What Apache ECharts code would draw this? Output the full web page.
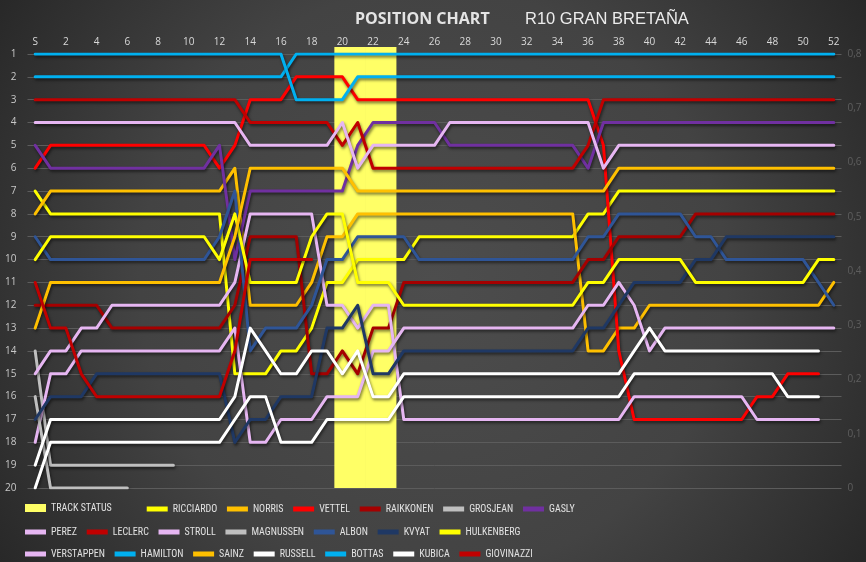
<!DOCTYPE html>
<html>
<head>
<meta charset="utf-8">
<script src="https://cdn.jsdelivr.net/npm/echarts@6/dist/echarts.min.js"></script>
<style>html,body{margin:0;padding:0;background:#333}#c{width:866px;height:562px}</style>
</head>
<body>
<div id="c"></div>
<script>
// ---- categories (laps) ----
const laps = ['S','1','2','3','4','5','6','7','8','9','10','11','12','13','14','15','16','17','18','19','20','21','22','23','24','25','26','27','28','29','30','31','32','33','34','35','36','37','38','39','40','41','42','43','44','45','46','47','48','49','50','51','52'];

// ---- track status (safety car) on secondary axis ----
const trackStatus = [null,null,null,null,null,null,null,null,null,null, null,null,null,null,null,null,null,null,null,null, 0.813,0.813,0.813,0.813,null,null,null,null,null,null, null,null,null,null,null,null,null,null,null,null, null,null,null,null,null,null,null,null,null,null, null,null,null];

// ---- positions per lap (S .. 52) ----
const RICCIARDO = [7,8,8,8,8,8,8,8,8,8, 8,8,8,15,15,15,14,14,13,11, 11,10,10,10,10,9,9,9,9,9, 9,9,9,9,9,9,8,8,7,7, 7,7,7,7,7,7,7,7,7,7, 7,7,7];
const NORRIS = [8,7,7,7,7,7,7,7,7,7, 7,7,7,6,12,12,12,12,11,9, 9,8,8,8,8,8,8,8,8,8, 8,8,8,8,8,8,14,14,13,13, 12,12,12,12,12,12,12,12,12,12, 12,12,11];
const VETTEL = [6,5,5,5,5,5,5,5,5,5, 5,5,6,5,3,3,3,2,2,2, 2,3,3,3,3,3,3,3,3,3, 3,3,3,3,3,3,3,5,14,17, 17,17,17,17,17,17,17,16,16,15, 15,15,null];
const RAIKKONEN = [12,12,12,12,12,13,13,13,13,13, 13,13,13,12,9,9,9,9,15,15, 14,15,13,13,11,11,11,11,11,11, 11,11,11,11,11,11,10,10,9,9, 9,9,9,8,8,8,8,8,8,8, 8,8,8];
const GROSJEAN = [14,19,19,19,19,19,19,19,19,19, null,null,null,null,null,null,null,null,null,null, null,null,null,null,null,null,null,null,null,null, null,null,null,null,null,null,null,null,null,null, null,null,null,null,null,null,null,null,null,null, null,null,null];
const GASLY = [5,6,6,6,6,6,6,6,6,6, 6,6,5,10,7,7,7,7,7,7, 7,5,4,4,4,4,4,5,5,5, 5,5,5,5,5,5,6,4,4,4, 4,4,4,4,4,4,4,4,4,4, 4,4,4];
const PEREZ = [15,14,14,13,13,12,12,12,12,12, 12,12,12,11,8,8,8,8,8,12, 12,13,12,12,17,17,17,17,17,17, 17,17,17,17,17,17,17,17,17,16, 16,16,16,16,16,16,16,17,17,17, 17,17,null];
const LECLERC = [3,3,3,3,3,3,3,3,3,3, 3,3,3,3,4,4,4,4,4,4, 5,4,6,6,6,6,6,6,6,6, 6,6,6,6,6,6,5,3,3,3, 3,3,3,3,3,3,3,3,3,3, 3,3,3];
const STROLL = [18,15,15,14,14,14,14,14,14,14, 14,14,14,13,18,18,17,17,17,16, 16,16,14,14,13,13,13,13,13,13, 13,13,13,13,13,13,12,12,11,12, 14,13,13,13,13,13,13,13,13,13, 13,13,13];
const MAGNUSSEN = [16,20,20,20,20,20,20,null,null,null, null,null,null,null,null,null,null,null,null,null, null,null,null,null,null,null,null,null,null,null, null,null,null,null,null,null,null,null,null,null, null,null,null,null,null,null,null,null,null,null, null,null,null];
const ALBON = [9,10,10,10,10,10,10,10,10,10, 10,10,9,7,14,13,13,13,12,10, 10,9,9,9,9,10,10,10,10,10, 10,10,10,10,10,10,9,9,8,8, 8,8,8,9,9,10,10,10,10,10, 10,11,12];
const KVYAT = [17,16,16,16,15,15,15,15,15,15, 15,15,15,18,17,17,16,16,16,13, 13,12,15,15,14,14,14,14,14,14, 14,14,14,14,14,14,13,13,12,11, 11,11,11,10,10,9,9,9,9,9, 9,9,9];
const HULKENBERG = [10,9,9,9,9,9,9,9,9,9, 9,9,10,8,11,11,11,11,9,8, 8,11,11,11,12,12,12,12,12,12, 12,12,12,12,12,12,11,11,10,10, 10,10,10,11,11,11,11,11,11,11, 11,10,10];
const VERSTAPPEN = [4,4,4,4,4,4,4,4,4,4, 4,4,4,4,5,5,5,5,5,5, 4,6,5,5,5,5,5,4,4,4, 4,4,4,4,4,4,4,6,5,5, 5,5,5,5,5,5,5,5,5,5, 5,5,5];
const HAMILTON = [2,2,2,2,2,2,2,2,2,2, 2,2,2,2,2,2,2,1,1,1, 1,1,1,1,1,1,1,1,1,1, 1,1,1,1,1,1,1,1,1,1, 1,1,1,1,1,1,1,1,1,1, 1,1,1];
const SAINZ = [13,11,11,11,11,11,11,11,11,11, 11,11,11,9,6,6,6,6,6,6, 6,7,7,7,7,7,7,7,7,7, 7,7,7,7,7,7,7,7,6,6, 6,6,6,6,6,6,6,6,6,6, 6,6,6];
const RUSSELL = [19,17,17,17,17,17,17,17,17,17, 17,17,17,16,13,14,15,15,14,14, 15,14,16,16,15,15,15,15,15,15, 15,15,15,15,15,15,15,15,15,14, 13,14,14,14,14,14,14,14,14,14, 14,14,null];
const BOTTAS = [1,1,1,1,1,1,1,1,1,1, 1,1,1,1,1,1,1,3,3,3, 3,2,2,2,2,2,2,2,2,2, 2,2,2,2,2,2,2,2,2,2, 2,2,2,2,2,2,2,2,2,2, 2,2,2];
const KUBICA = [20,18,18,18,18,18,18,18,18,18, 18,18,18,17,16,16,18,18,18,17, 17,17,17,17,16,16,16,16,16,16, 16,16,16,16,16,16,16,16,16,15, 15,15,15,15,15,15,15,15,15,16, 16,16,null];
const GIOVINAZZI = [11,13,13,15,16,16,16,16,16,16, 16,16,16,14,10,10,10,10,10,null, null,null,null,null,null,null,null,null,null,null, null,null,null,null,null,null,null,null,null,null, null,null,null,null,null,null,null,null,null,null, null,null,null];

const drivers = [
  ['RICCIARDO', RICCIARDO, '#FFFF00'],
  ['NORRIS', NORRIS, '#FFC000'],
  ['VETTEL', VETTEL, '#FF0000'],
  ['RAIKKONEN', RAIKKONEN, '#A50000'],
  ['GROSJEAN', GROSJEAN, '#BFBFBF'],
  ['GASLY', GASLY, '#7030A0'],
  ['PEREZ', PEREZ, '#E6B6F2'],
  ['LECLERC', LECLERC, '#C00000'],
  ['STROLL', STROLL, '#E6B6F2'],
  ['MAGNUSSEN', MAGNUSSEN, '#BFBFBF'],
  ['ALBON', ALBON, '#2F5597'],
  ['KVYAT', KVYAT, '#1F3864'],
  ['HULKENBERG', HULKENBERG, '#FFFF00'],
  ['VERSTAPPEN', VERSTAPPEN, '#E6B6F2'],
  ['HAMILTON', HAMILTON, '#00B0F0'],
  ['SAINZ', SAINZ, '#FFC000'],
  ['RUSSELL', RUSSELL, '#FFFFFF'],
  ['BOTTAS', BOTTAS, '#00B0F0'],
  ['KUBICA', KUBICA, '#FFFFFF'],
  ['GIOVINAZZI', GIOVINAZZI, '#C00000']
];

const LEG_FONT = '"Liberation Sans Narrow","Arial Narrow","Roboto Condensed","DejaVu Sans Condensed",sans-serif';
const legendBase = {
  orient: 'horizontal', padding: 0, itemWidth: 21, itemHeight: 5, icon: 'rect',
  itemGap: 9.7, selectedMode: false,
  textStyle: { color: '#e2e2e2', fontSize: 10, fontFamily: LEG_FONT, width: 86, padding: 0 }
};
const names = drivers.map(d => d[0]);

const series = [{
  name: 'TRACK STATUS', type: 'bar', xAxisIndex: 1, yAxisIndex: 1,
  data: trackStatus, barWidth: 16, barGap: '-100%', animation: false,
  itemStyle: { color: '#FFFF66' }, emphasis: { disabled: true }, z: 1
}].concat(drivers.map(d => ({
  name: d[0], type: 'line', xAxisIndex: 0, yAxisIndex: 0, data: d[1],
  showSymbol: false, symbol: 'none', connectNulls: false, animation: false, z: 2,
  lineStyle: { color: d[2], width: 3, cap: 'round', join: 'round',
    shadowColor: 'rgba(0,0,0,0.55)', shadowBlur: 3, shadowOffsetY: 2, shadowOffsetX: 1 },
  itemStyle: { color: d[2] }, emphasis: { disabled: true }
})));

const option = {
  animation: false,
  backgroundColor: { type: 'radial', x: 0.5, y: 0.5, r: 0.95,
    colorStops: [{ offset: 0, color: '#4d4d4d' }, { offset: 0.55, color: '#434343' }, { offset: 1, color: '#262626' }] },
  title: [
    { text: 'POSITION CHART', left: 355, top: 11, padding: 0,
      textStyle: { color: '#e4e4e4', fontSize: 16, fontWeight: 'bold', fontFamily: '"Open Sans","Liberation Sans",sans-serif' } },
    { text: 'R10 GRAN BRETAÑA', left: 525, top: 11, padding: 0,
      textStyle: { color: '#ececec', fontSize: 16.5, fontWeight: 'normal', fontFamily: '"Liberation Sans",Arial,sans-serif' } }
  ],
  grid: [
    { left: 27.5, right: 24.5, top: 54, bottom: 74 },
    { left: 27.5, right: 24.5, top: 47, bottom: 74 }
  ],
  xAxis: [
    { type: 'category', gridIndex: 0, data: laps, position: 'top', boundaryGap: true,
      axisLine: { show: false }, axisTick: { show: false },
      axisLabel: { interval: 1, color: '#d9d9d9', fontSize: 10, margin: 7, fontFamily: '"Open Sans","Liberation Sans",sans-serif' },
      splitLine: { show: false } },
    { type: 'category', gridIndex: 1, data: laps, show: false, boundaryGap: true }
  ],
  yAxis: [
    { type: 'value', gridIndex: 0, inverse: true, min: 1, max: 20, interval: 1, position: 'left',
      axisLine: { show: false }, axisTick: { show: false },
      axisLabel: { color: '#c8c8c8', fontSize: 10, margin: 11, fontFamily: '"Open Sans","Liberation Sans",sans-serif' },
      splitLine: { show: true, lineStyle: { color: '#5c5c5c', width: 1 } } },
    { type: 'value', gridIndex: 1, min: 0, max: 0.813, interval: 0.1, position: 'right',
      axisLine: { show: false }, axisTick: { show: false }, splitLine: { show: false },
      axisLabel: { color: '#5e5e5e', fontSize: 10, margin: 6, showMaxLabel: false,
        fontFamily: '"Open Sans","Liberation Sans",sans-serif',
        formatter: v => (Math.round(v * 10) / 10).toString().replace('.', ',') } }
  ],
  legend: [
    Object.assign({}, legendBase, { data: ['TRACK STATUS'], left: 25, top: 503, itemHeight: 8 }),
    Object.assign({}, legendBase, { data: names.slice(0, 6), left: 146.7, top: 504 }),
    Object.assign({}, legendBase, { data: names.slice(6, 13), left: 25, top: 527 }),
    Object.assign({}, legendBase, { data: names.slice(13, 20), left: 25, top: 549 })
  ],
  series: series
};
const chart = echarts.init(document.getElementById('c'));
chart.setOption(option);
</script>
</body>
</html>
